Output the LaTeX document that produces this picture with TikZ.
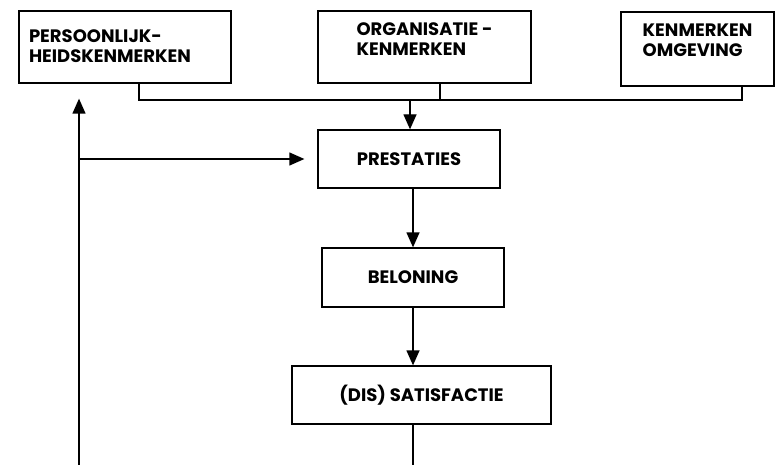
\documentclass[tikz,border=0pt]{standalone}
\usepackage{fontspec}
\setmainfont{Poppins}
\usetikzlibrary{arrows.meta, positioning, calc}
\newcommand{\tweeregels}[3][0pt]{\raisebox{#1}[\height][\depth]{\begin{tabular}{@{}l@{}}#2\\#3\end{tabular}}}
\tikzset{
  kader/.style={rectangle, draw, line width=1.3pt, inner sep=0pt,
    font=\fontsize{18}{20}\selectfont\bfseries},
  arrow/.style={-{Triangle[length=15pt,width=13pt]}, line width=1.3pt},
  line/.style={line width=1.3pt}
}
\begin{document}
\begin{tikzpicture}[x=1pt, y=-1pt]
  \useasboundingbox (0,0) rectangle (776,465);
  % bovenste rij
  \node[kader, minimum width=212pt, minimum height=72pt] (pers) at (125,47)
    {\tweeregels[-2pt]{PERSOONLIJK-}{HEIDSKENMERKEN}\hspace*{30pt}};
  \node[kader, minimum width=213pt, minimum height=72pt] (org) at (424.5,47)
    {\tweeregels[5pt]{ORGANISATIE -}{KENMERKEN}};
  \node[kader, minimum width=153pt, minimum height=74pt] (omg) at (697.5,49)
    {\tweeregels[6pt]{KENMERKEN}{OMGEVING}};
  % keten
  \node[kader, minimum width=182pt, minimum height=58pt] (pres) at (409,159) {PRESTATIES};
  \node[kader, minimum width=182pt, minimum height=59pt] (bel) at (413,277.5) {BELONING};
  \node[kader, minimum width=259pt, minimum height=58pt] (sat) at (421.5,395) {(DIS) SATISFACTIE};

  \coordinate (bus) at (410,100);
  \coordinate (bottomL) at (79,466);
  \coordinate (turn) at (79,159);
  \coordinate (satbot) at (413,466);

  \draw[line] ([xshift=14pt]pers.south) |- (bus) -| ([xshift=44.5pt]omg.south);
  \draw[line] ([xshift=15.5pt]org.south) -- ++(0,17);
  \draw[arrow] (bus) -- (bus |- pres.north);
  \draw[arrow] (pres.south -| bel) -- (bel.north);
  \draw[arrow] (bel.south) -- (bel.south |- sat.north);
  \draw[line] (sat.south -| satbot) -- (satbot);

  \draw[arrow] (bottomL) -- ([yshift=-15pt]pers.south -| bottomL);
  \draw[arrow] (turn) -- ([xshift=-13pt]pres.west);
\end{tikzpicture}
\end{document}
